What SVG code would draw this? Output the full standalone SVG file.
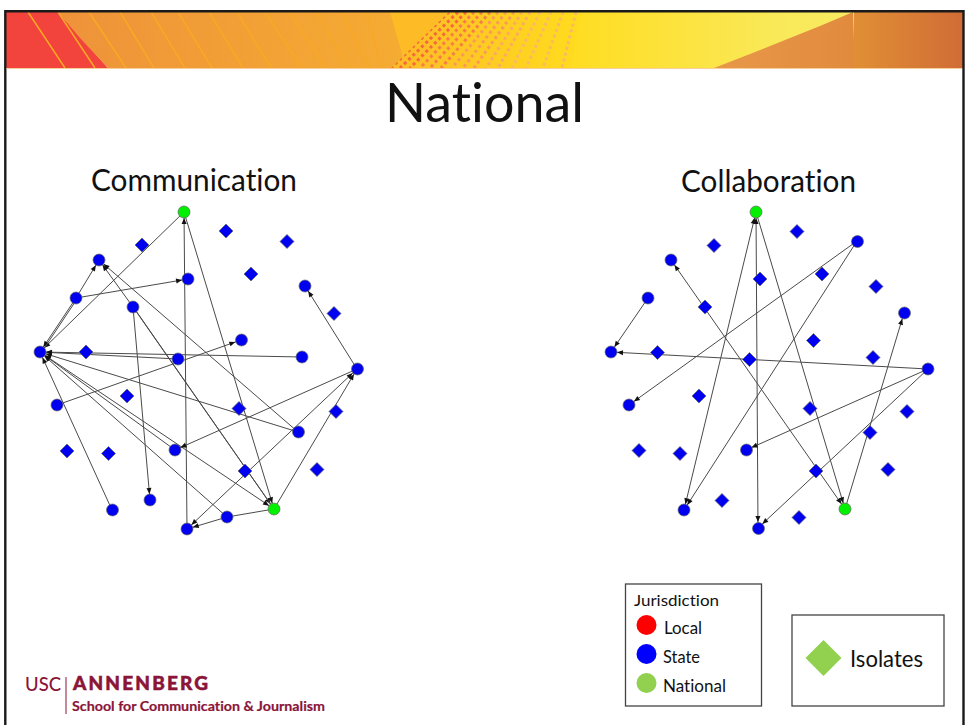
<svg xmlns="http://www.w3.org/2000/svg" xmlns:xlink="http://www.w3.org/1999/xlink" width="965" height="725" viewBox="0 0 965 725">
<style>
text{font-family:"Lato","Open Sans",sans-serif;fill:#111;font-variant-ligatures:none}
.e{stroke:#4a4a4a;stroke-width:1;fill:none;marker-end:url(#a)}
.b{marker-start:url(#a)}
.n{stroke:#4a4a4a;stroke-width:1;fill:none}
.s{fill:#0000f0;stroke:#666;stroke-width:.7}
.g{fill:#00f000;stroke:#666;stroke-width:.7}
.st{stroke:#f8a825;stroke-width:1.500;fill:none}
.box{fill:#fff;stroke:#444;stroke-width:1.300}
.logo{fill:#8a1538;font-family:"Lato","Liberation Sans",sans-serif}
.m{fill:none;stroke-width:3;stroke-dasharray:3 3}
</style>
<defs>
<marker id="a" viewBox="0 0 6 5" markerUnits="userSpaceOnUse" markerWidth="6" markerHeight="5" refX="12" refY="2.500" orient="auto-start-reverse" overflow="visible"><path d="M0 0L6 2.500L0 5Z" fill="#111"/></marker>
<polygon id="d" points="0,-7 7,0 0,7 -7,0"/>
<linearGradient id="gy" x1="0" x2="1" y1="0" y2="0"><stop offset="0" stop-color="#ffdc1e"/><stop offset=".55" stop-color="#f9e95a"/><stop offset="1" stop-color="#f7ef6a"/></linearGradient>
<linearGradient id="go" x1="0" x2="1" y1="0" y2="0"><stop offset="0" stop-color="#ee923a"/><stop offset="1" stop-color="#f5ac32"/></linearGradient>
<linearGradient id="gm" x1="0" x2="1" y1="0" y2="0"><stop offset="0" stop-color="#fdbb26"/><stop offset="1" stop-color="#ffdc1e"/></linearGradient>
<linearGradient id="gr" x1="0" x2="1" y1="0" y2="0"><stop offset="0" stop-color="#e89848"/><stop offset="1" stop-color="#e18a3e"/></linearGradient>
<linearGradient id="gr2" x1="0" x2="1" y1="0" y2="0"><stop offset="0" stop-color="#e08f35"/><stop offset="1" stop-color="#d06c36"/></linearGradient>
<clipPath id="wedge"><polygon points="449,12 581,12 571,68 391,68"/></clipPath>
</defs>
<rect width="965" height="725" fill="#fff"/>
<g id="banner">
<rect x="560" y="12" width="403" height="56" fill="url(#gy)"/>
<polygon points="6,12 58,12 108,68 6,68" fill="#f2433c"/>
<polygon points="58,12 395,12 405,68 108,68 80,38" fill="url(#go)"/>
<polygon points="390,12 449,12 406,68" fill="#fdbb26"/>
<polygon points="449,12 581,12 571,68 391,68" fill="url(#gm)"/>
<path class="st" d="M28 12L65 68M58 12L95 68M89 12L126 68M120 12L154 68M151 12L185 68M178 12L212 68M209 12L243 68M237 12L271 68M265 12L302 68M289 12L326 68M317 12L348 68M342 12L369 68M366 12L382 68"/>
<g clip-path="url(#wedge)">
<path class="m" stroke="#f4683c" d="M449 12L391 68M458 12L400 68M466 12L410 68"/>
<path class="m" stroke="#f77d48" d="M474 12L420 68M482 12L430 68M490 12L441 68"/>
<path class="m" stroke="#f99a58" d="M498 12L452 68M506 12L463 68M514 12L474 68"/>
<path class="m" stroke="#fbab60" d="M522 12L486 68M530 12L498 68"/>
<path class="m" stroke="#fcb862" d="M540 12L512 68M551 12L526 68M563 12L543 68M576 12L562 68"/>
</g>
<polygon points="714,68 750,54 785,40 820,26 853,12 855,68" fill="url(#gr)"/>
<rect x="854" y="12" width="109" height="56" fill="url(#gr2)"/>
<path d="M5.300 725V11.200H963.500V725" fill="none" stroke="#1a1a1a" stroke-width="2.400"/>
<line x1="6.500" y1="68.500" x2="962" y2="68.500" stroke="#f6cf9a" stroke-width="1"/>
</g>
<text x="385" y="122" font-size="54" textLength="199" lengthAdjust="spacingAndGlyphs">National</text>
<text x="91" y="191" font-size="31" textLength="206" lengthAdjust="spacingAndGlyphs">Communication</text>
<text x="681" y="192" font-size="31" textLength="175" lengthAdjust="spacingAndGlyphs">Collaboration</text>
<g id="connectors">
<g id="communication-edges">
<line class="e" x1="184" y1="212" x2="40" y2="352"/>
<line class="e" x1="187" y1="529" x2="184" y2="212"/>
<line class="e" x1="184" y1="212" x2="274" y2="509"/>
<line class="e" x1="76" y1="298" x2="99" y2="260"/>
<line class="e" x1="76" y1="298" x2="188" y2="279"/>
<line class="e" x1="76" y1="298" x2="40" y2="352"/>
<line class="n" x1="77" y1="299" x2="41" y2="353"/>
<line class="e" x1="133" y1="307" x2="99" y2="260"/>
<line class="e" x1="298" y1="432" x2="99" y2="260"/>
<line class="e" x1="133" y1="307" x2="150" y2="500"/>
<line class="e" x1="133" y1="307" x2="274" y2="509"/>
<line class="n" x1="134" y1="308" x2="272" y2="506"/>
<line class="e" x1="178" y1="359" x2="40" y2="352"/>
<line class="e" x1="302" y1="357" x2="40" y2="352"/>
<line class="e" x1="57" y1="405" x2="241" y2="340"/>
<line class="e" x1="112" y1="510" x2="40" y2="352"/>
<line class="e" x1="298" y1="432" x2="40" y2="352"/>
<line class="e" x1="175" y1="450" x2="40" y2="352"/>
<line class="e" x1="227" y1="517" x2="40" y2="352"/>
<line class="e b" x1="274" y1="509" x2="40" y2="352"/>
<line class="e" x1="357" y1="369" x2="175" y2="450"/>
<line class="e" x1="274" y1="509" x2="357" y2="369"/>
<line class="e b" x1="187" y1="529" x2="357" y2="369"/>
<line class="n" x1="274" y1="509" x2="227" y2="517"/>
<line class="e" x1="227" y1="517" x2="187" y2="529"/>
<line class="e" x1="357" y1="369" x2="305" y2="286"/>
</g>
<g id="collaboration-edges">
<line class="e" x1="648" y1="298" x2="611" y2="352"/>
<line class="e" x1="928" y1="369" x2="611" y2="352"/>
<line class="e" x1="857" y1="241" x2="629" y2="405"/>
<line class="e" x1="857" y1="241" x2="684" y2="510"/>
<line class="e b" x1="756" y1="212" x2="684" y2="510"/>
<line class="e b" x1="756" y1="212" x2="758" y2="528"/>
<line class="e" x1="756" y1="212" x2="845" y2="509"/>
<line class="e b" x1="671" y1="260" x2="845" y2="509"/>
<line class="e" x1="845" y1="509" x2="904" y2="313"/>
<line class="e" x1="928" y1="369" x2="746" y2="450"/>
<line class="e" x1="928" y1="369" x2="758" y2="528"/>
</g>
</g>
<g id="communication-nodes">
<g id="c1"><circle class="g" cx="184" cy="212" r="6"/></g>
<g id="c2"><circle class="s" cx="99" cy="260" r="6"/></g>
<g id="c3"><circle class="s" cx="188" cy="279" r="6"/></g>
<g id="c4"><circle class="s" cx="76" cy="298" r="6"/></g>
<g id="c5"><circle class="s" cx="133" cy="307" r="6"/></g>
<g id="c6"><circle class="s" cx="241.500" cy="340" r="6"/></g>
<g id="c7"><circle class="s" cx="305" cy="286" r="6"/></g>
<g id="c8"><circle class="s" cx="40" cy="352" r="6"/></g>
<g id="c9"><circle class="s" cx="178" cy="359" r="6"/></g>
<g id="c10"><circle class="s" cx="302" cy="357" r="6"/></g>
<g id="c11"><circle class="s" cx="357.500" cy="369" r="6"/></g>
<g id="c12"><circle class="s" cx="57" cy="405" r="6"/></g>
<g id="c13"><circle class="s" cx="298.500" cy="432" r="6"/></g>
<g id="c14"><circle class="s" cx="175" cy="450" r="6"/></g>
<g id="c15"><circle class="s" cx="112.500" cy="510" r="6"/></g>
<g id="c16"><circle class="s" cx="150" cy="500" r="6"/></g>
<g id="c17"><circle class="s" cx="187" cy="529" r="6"/></g>
<g id="c18"><circle class="s" cx="227" cy="517" r="6"/></g>
<g id="c19"><circle class="g" cx="274" cy="509" r="6"/></g>
<g id="c20"><use class="s" href="#d" x="142" y="245"/></g>
<g id="c21"><use class="s" href="#d" x="226" y="231"/></g>
<g id="c22"><use class="s" href="#d" x="287" y="241.500"/></g>
<g id="c23"><use class="s" href="#d" x="251" y="274"/></g>
<g id="c24"><use class="s" href="#d" x="334" y="313.500"/></g>
<g id="c25"><use class="s" href="#d" x="86" y="352"/></g>
<g id="c26"><use class="s" href="#d" x="127" y="396"/></g>
<g id="c27"><use class="s" href="#d" x="239" y="408.500"/></g>
<g id="c28"><use class="s" href="#d" x="336" y="411.500"/></g>
<g id="c29"><use class="s" href="#d" x="67" y="451"/></g>
<g id="c30"><use class="s" href="#d" x="108.500" y="453.500"/></g>
<g id="c31"><use class="s" href="#d" x="245" y="471"/></g>
<g id="c32"><use class="s" href="#d" x="317" y="469.500"/></g>
</g>
<g id="collaboration-nodes">
<g id="k1"><circle class="g" cx="756" cy="212" r="6"/></g>
<g id="k2"><circle class="s" cx="671" cy="260" r="6"/></g>
<g id="k3"><circle class="s" cx="857.500" cy="241.500" r="6"/></g>
<g id="k4"><circle class="s" cx="648" cy="298" r="6"/></g>
<g id="k5"><circle class="s" cx="904.500" cy="313" r="6"/></g>
<g id="k6"><circle class="s" cx="611" cy="352" r="6"/></g>
<g id="k7"><circle class="s" cx="928" cy="369" r="6"/></g>
<g id="k8"><circle class="s" cx="629" cy="405" r="6"/></g>
<g id="k9"><circle class="s" cx="746.500" cy="450" r="6"/></g>
<g id="k10"><circle class="s" cx="684" cy="510" r="6"/></g>
<g id="k11"><circle class="s" cx="758.500" cy="528.500" r="6"/></g>
<g id="k12"><circle class="g" cx="845" cy="509" r="6"/></g>
<g id="k13"><use class="s" href="#d" x="714" y="245.500"/></g>
<g id="k14"><use class="s" href="#d" x="797" y="231.500"/></g>
<g id="k15"><use class="s" href="#d" x="760" y="279"/></g>
<g id="k16"><use class="s" href="#d" x="822" y="274"/></g>
<g id="k17"><use class="s" href="#d" x="876" y="286.500"/></g>
<g id="k18"><use class="s" href="#d" x="705" y="307"/></g>
<g id="k19"><use class="s" href="#d" x="813.500" y="340.500"/></g>
<g id="k20"><use class="s" href="#d" x="657.500" y="352.500"/></g>
<g id="k21"><use class="s" href="#d" x="749.500" y="359.500"/></g>
<g id="k22"><use class="s" href="#d" x="873" y="357.500"/></g>
<g id="k23"><use class="s" href="#d" x="699" y="396"/></g>
<g id="k24"><use class="s" href="#d" x="810" y="408.500"/></g>
<g id="k25"><use class="s" href="#d" x="907" y="411.500"/></g>
<g id="k26"><use class="s" href="#d" x="639" y="450.500"/></g>
<g id="k27"><use class="s" href="#d" x="680" y="453.500"/></g>
<g id="k28"><use class="s" href="#d" x="870" y="432.500"/></g>
<g id="k29"><use class="s" href="#d" x="816" y="471"/></g>
<g id="k30"><use class="s" href="#d" x="888" y="469.500"/></g>
<g id="k31"><use class="s" href="#d" x="722" y="500.500"/></g>
<g id="k32"><use class="s" href="#d" x="799" y="517.500"/></g>
</g>
<g id="legend-jurisdiction">
<rect class="box" x="625.500" y="584" width="136" height="122"/>
<text x="634" y="606" font-size="16" textLength="85" lengthAdjust="spacingAndGlyphs">Jurisdiction</text>
<circle cx="646.500" cy="625" r="10" fill="#ff0000"/>
<text x="664" y="634" font-size="16.500" textLength="38" lengthAdjust="spacingAndGlyphs">Local</text>
<circle cx="646.500" cy="654" r="10" fill="#0000ff"/>
<text x="663" y="663" font-size="16.500" textLength="37" lengthAdjust="spacingAndGlyphs">State</text>
<circle cx="646.500" cy="683" r="10" fill="#92d050"/>
<text x="663" y="692" font-size="16.500" textLength="63" lengthAdjust="spacingAndGlyphs">National</text>
</g>
<g id="legend-isolates">
<rect class="box" x="792" y="615" width="152" height="91"/>
<polygon points="823.500,640 841.500,658 823.500,676 805.500,658" fill="#92d050"/>
<text x="850" y="667" font-size="23" textLength="73" lengthAdjust="spacingAndGlyphs">Isolates</text>
</g>
<g id="logo">
<text class="logo" x="25" y="690.500" font-size="19" font-weight="500" textLength="36" lengthAdjust="spacingAndGlyphs">USC</text>
<line x1="66" y1="677" x2="66" y2="714" stroke="#8a1538" stroke-width="1"/>
<text class="logo" x="73" y="690" font-size="19" font-weight="900" stroke="#8a1538" stroke-width=".5" textLength="135" lengthAdjust="spacing">ANNENBERG</text>
<text class="logo" x="72" y="711" font-size="14" font-weight="700" stroke="#8a1538" stroke-width=".2" textLength="253" lengthAdjust="spacingAndGlyphs">School for Communication &amp; Journalism</text>
</g>
</svg>
